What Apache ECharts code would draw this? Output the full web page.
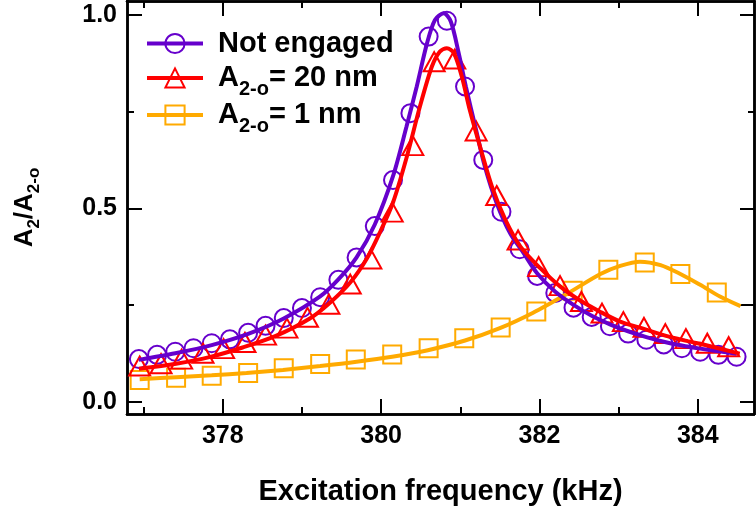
<!DOCTYPE html>
<html><head><meta charset="utf-8">
<script src="https://cdn.jsdelivr.net/npm/echarts@6.0.0/dist/echarts.min.js"></script>
<style>html,body{margin:0;padding:0;background:#fff}#c{width:756px;height:510px}</style>
</head><body><div id="c"></div>
<script>
// ---- data ----
const freqNotEngaged = [376.94,377.17,377.40,377.63,377.86,378.09,378.32,378.54,378.77,379.00,379.23,379.46,379.69,379.92,380.15,380.37,380.60,380.83,381.06,381.29,381.52,381.75,381.97,382.20,382.43,382.66,382.89,383.12,383.35,383.57,383.80,384.03,384.26,384.49];
const valNotEngaged = [0.110,0.121,0.129,0.138,0.151,0.161,0.178,0.196,0.216,0.242,0.270,0.315,0.373,0.454,0.573,0.746,0.944,0.985,0.815,0.625,0.491,0.394,0.325,0.281,0.243,0.219,0.195,0.176,0.160,0.148,0.138,0.129,0.121,0.116];

const freq20nm = [376.95,377.22,377.48,377.75,378.01,378.28,378.54,378.81,379.07,379.34,379.61,379.87,380.14,380.40,380.67,380.93,381.20,381.46,381.73,381.99,382.26,382.53,382.79,383.06,383.32,383.59,383.85,384.12,384.39];
const val20nm = [0.092,0.098,0.110,0.125,0.137,0.153,0.172,0.190,0.218,0.252,0.304,0.369,0.490,0.662,0.879,0.886,0.700,0.533,0.418,0.349,0.300,0.259,0.229,0.207,0.192,0.176,0.163,0.151,0.142];

const freq1nm = [376.95,377.41,377.86,378.32,378.77,379.23,379.68,380.14,380.60,381.05,381.51,381.96,382.42,382.87,383.33,383.78,384.24];
const val1nm = [0.056,0.062,0.067,0.074,0.086,0.097,0.109,0.122,0.138,0.164,0.192,0.233,0.287,0.341,0.360,0.330,0.282];

// fitted curves
const fitFreqNotEngaged = [376.94,377.40,377.86,378.32,378.77,379.23,379.46,379.69,379.92,380.15,380.32,380.45,380.58,380.68,380.79,380.88,380.98,381.07,381.19,381.31,381.46,381.63,381.80,381.97,382.20,382.43,382.66,382.89,383.12,383.35,383.57,383.80,384.03,384.26,384.49];
const fitValNotEngaged = [0.108,0.125,0.146,0.175,0.215,0.272,0.316,0.373,0.458,0.583,0.711,0.815,0.927,0.987,1.004,0.983,0.901,0.815,0.711,0.608,0.513,0.435,0.384,0.332,0.284,0.250,0.222,0.200,0.182,0.167,0.155,0.145,0.137,0.130,0.124];

const fitFreq20nm = [376.94,377.41,377.83,378.25,378.67,379.10,379.35,379.61,379.82,379.99,380.15,380.32,380.49,380.64,380.74,380.83,380.92,381.02,381.12,381.25,381.40,381.57,381.76,382.01,382.26,382.51,382.77,383.02,383.32,383.60,383.86,384.12,384.53];
const fitVal20nm = [0.085,0.098,0.115,0.140,0.170,0.215,0.255,0.308,0.370,0.440,0.515,0.630,0.763,0.866,0.905,0.914,0.901,0.840,0.754,0.659,0.556,0.470,0.401,0.345,0.298,0.262,0.232,0.207,0.188,0.170,0.157,0.145,0.124];

const fitFreq1nm = [376.95,377.41,377.86,378.30,378.76,379.23,379.69,380.14,380.59,381.06,381.50,381.92,382.35,382.77,383.02,383.27,383.53,383.78,384.03,384.28,384.54];
const fitVal1nm = [0.058,0.063,0.068,0.074,0.082,0.092,0.103,0.116,0.133,0.158,0.190,0.230,0.279,0.330,0.351,0.362,0.353,0.330,0.302,0.272,0.247];

const xMajorTicks = [378,380,382,384];
const xMinorTicks = [377,379,381,383];
const yMajorTicks = [0,0.5,1];
const yMinorTicks = [0.25,0.75];
const yRightLongTicks = [0,0.25,0.5,1];
const yRightShortTicks = [0.75];

const seriesNames = ['Not engaged','A2-o= 20 nm','A2-o= 1 nm'];

// ---- styling ----
const PURPLE = '#6600CC', RED = '#FF0000', ORANGE = '#FFAA00';
const SANS = "'Liberation Sans',Arial,Helvetica,sans-serif";
const X_MIN = 376.79, X_MAX = 384.71, Y_MIN = -0.032, Y_MAX = 1.036;
const pairs = (xs, ys) => xs.map((x, i) => [x, ys[i]]);

function xAx(pos, ticks, len, labels) {
  return {
    type: 'value', min: X_MIN, max: X_MAX, position: pos, gridIndex: 0,
    axisLine: { show: true, onZero: false, lineStyle: { color: '#000', width: 2.5 } },
    axisTick: { show: true, inside: true, length: len, customValues: ticks, lineStyle: { color: '#000', width: 2 } },
    axisLabel: labels ? { show: true, customValues: ticks, margin: 10, color: '#000', fontFamily: SANS, fontWeight: 'bold', fontSize: 25 } : { show: false },
    splitLine: { show: false }, minorTick: { show: false }
  };
}
function yAx(pos, ticks, len, labels) {
  return {
    type: 'value', min: Y_MIN, max: Y_MAX, position: pos, gridIndex: 0,
    axisLine: { show: true, onZero: false, lineStyle: { color: '#000', width: 2.5 } },
    axisTick: { show: true, inside: true, length: len, customValues: ticks, lineStyle: { color: '#000', width: 2 } },
    axisLabel: labels ? { show: true, customValues: ticks, margin: 10, color: '#000', fontFamily: SANS, fontWeight: 'bold', fontSize: 25, formatter: v => v.toFixed(1) } : { show: false },
    splitLine: { show: false }
  };
}

const xAxes = [xAx('bottom', xMajorTicks, 15, true), xAx('bottom', xMinorTicks, 7, false), xAx('top', xMajorTicks, 15, false), xAx('top', xMinorTicks, 7, false)];
Object.assign(xAxes[0], {
  name: 'Excitation frequency (kHz)', nameLocation: 'middle', nameGap: 63,
  nameTextStyle: { color: '#000', fontFamily: SANS, fontWeight: 'bold', fontSize: 29 }
});
const yAxes = [yAx('left', yMajorTicks, 15, true), yAx('left', yMinorTicks, 7, false), yAx('right', yRightLongTicks, 14, false), yAx('right', yRightShortTicks, 6, false)];
Object.assign(yAxes[0], {
  name: '{m|A}{s|2}{m|/A}{s|2-o}', nameLocation: 'middle', nameGap: 84, nameRotate: 90,
  nameTextStyle: {
    color: '#000', fontFamily: SANS, fontWeight: 'bold', fontSize: 26,
    rich: {
      m: { fontFamily: SANS, fontWeight: 'bold', fontSize: 26, lineHeight: 37, color: '#000' },
      s: { fontFamily: SANS, fontWeight: 'bold', fontSize: 17, lineHeight: 17, verticalAlign: 'bottom', color: '#000' }
    }
  }
});

const legendRich = {
  g: { fontSize: 10, lineHeight: 10, width: 10 },
  t: { fontFamily: SANS, fontWeight: 'bold', fontSize: 29, lineHeight: 43, color: '#000' },
  s: { fontFamily: SANS, fontWeight: 'bold', fontSize: 20, lineHeight: 20, verticalAlign: 'bottom', color: '#000' }
};
function legendText(name) {
  if (name.indexOf('A2-o') === 0) return '{g| }{t|A}{s|2-o}{t|' + name.slice(4) + '}';
  return '{g| }{t|' + name + '}';
}
const legendColors = [PURPLE, RED, ORANGE];
const legendTops = [29, 63.5, 100.5];
const legends = seriesNames.map((n, i) => ({
  show: true, orient: 'vertical', left: 145, top: legendTops[i], padding: 0,
  itemWidth: 56, itemHeight: 24, selectedMode: false,
  data: [{ name: n, itemStyle: { color: 'rgba(0,0,0,0)', borderColor: legendColors[i], borderWidth: 2 } }],
  lineStyle: { width: 4 },
  formatter: legendText,
  textStyle: { color: '#000', fontFamily: SANS, fontWeight: 'bold', fontSize: 29, rich: legendRich }
}));

function fitLine(name, xs, ys, color, symbol) {
  return { type: 'line', name: name, xAxisIndex: 0, yAxisIndex: 0, data: pairs(xs, ys), smooth: 0.3,
    symbol: symbol, showSymbol: false, lineStyle: { color: color, width: 4 }, itemStyle: { color: color },
    emphasis: { disabled: true }, silent: true };
}
function markers(name, xs, ys, color, symbol, size) {
  return { type: 'scatter', name: name, xAxisIndex: 0, yAxisIndex: 0, data: pairs(xs, ys), symbol: symbol, symbolSize: size,
    itemStyle: { color: 'rgba(0,0,0,0)', borderColor: color, borderWidth: 2, opacity: 1 },
    emphasis: { disabled: true }, silent: true };
}

const chart = echarts.init(document.getElementById('c'), null, { renderer: 'canvas' });
chart.setOption({
  animation: false,
  backgroundColor: '#fff',
  grid: { left: 127, right: 2, top: 1, bottom: 96, containLabel: false, outerBoundsMode: 'none' },
  xAxis: xAxes,
  yAxis: yAxes,
  legend: legends,
  series: [
    fitLine(seriesNames[2], fitFreq1nm, fitVal1nm, ORANGE, 'rect'),
    markers('m1', freq1nm, val1nm, ORANGE, 'rect', 18),
    fitLine(seriesNames[0], fitFreqNotEngaged, fitValNotEngaged, PURPLE, 'circle'),
    markers('m0', freqNotEngaged, valNotEngaged, PURPLE, 'circle', 18),
    fitLine(seriesNames[1], fitFreq20nm, fitVal20nm, RED, 'triangle'),
    markers('m2', freq20nm, val20nm, RED, 'triangle', [21, 19])
  ]
});
</script></body></html>
